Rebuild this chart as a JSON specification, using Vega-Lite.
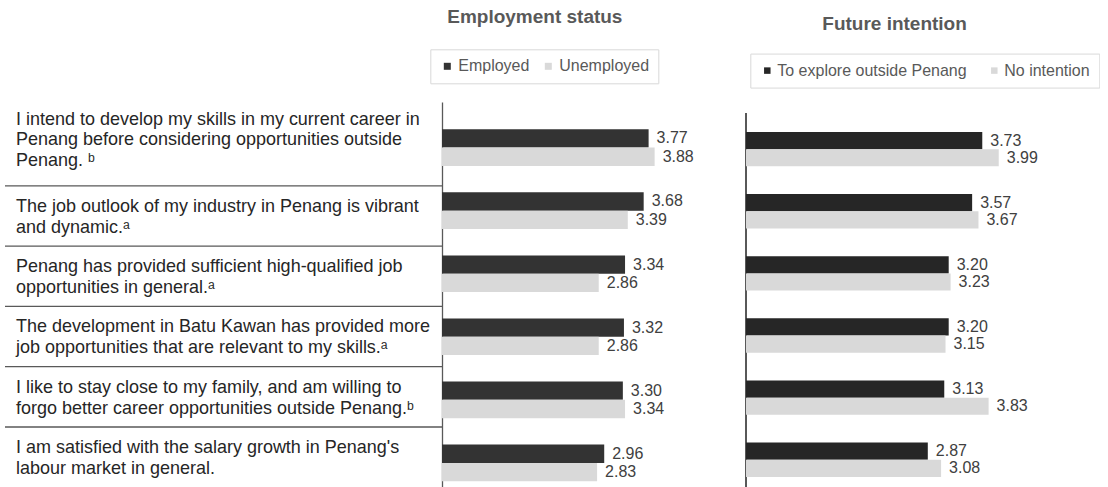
{
  "$schema": "https://vega.github.io/schema/vega-lite/v6.json",
  "background": "white",
  "padding": {"left": 4, "top": 8, "right": 0, "bottom": 0},
  "autosize": {"type": "pad"},
  "config": {"view": {"stroke": null}, "font": "Liberation Sans"},
  "bounds": "flush",
  "align": "none",
  "spacing": 0,
  "datasets": {
    "labels": [
      {"q": "Q1", "text": "I intend to develop my skills in my current career in\nPenang before considering opportunities outside\nPenang. ᵇ"},
      {"q": "Q2", "text": "The job outlook of my industry in Penang is vibrant\nand dynamic.ᵃ"},
      {"q": "Q3", "text": "Penang has provided sufficient high-qualified job\nopportunities in general.ᵃ"},
      {"q": "Q4", "text": "The development in Batu Kawan has provided more\njob opportunities that are relevant to my skills.ᵃ"},
      {"q": "Q5", "text": "I like to stay close to my family, and am willing to\nforgo better career opportunities outside Penang.ᵇ"},
      {"q": "Q6", "text": "I am satisfied with the salary growth in Penang's\nlabour market in general."}
    ],
    "emp": [
      {"q": "Q1", "group": "Employed", "value": 3.77},
      {"q": "Q1", "group": "Unemployed", "value": 3.88},
      {"q": "Q2", "group": "Employed", "value": 3.68},
      {"q": "Q2", "group": "Unemployed", "value": 3.39},
      {"q": "Q3", "group": "Employed", "value": 3.34},
      {"q": "Q3", "group": "Unemployed", "value": 2.86},
      {"q": "Q4", "group": "Employed", "value": 3.32},
      {"q": "Q4", "group": "Unemployed", "value": 2.86},
      {"q": "Q5", "group": "Employed", "value": 3.30},
      {"q": "Q5", "group": "Unemployed", "value": 3.34},
      {"q": "Q6", "group": "Employed", "value": 2.96},
      {"q": "Q6", "group": "Unemployed", "value": 2.83}
    ],
    "fut": [
      {"q": "Q1", "group": "To explore outside Penang", "value": 3.73},
      {"q": "Q1", "group": "No intention", "value": 3.99},
      {"q": "Q2", "group": "To explore outside Penang", "value": 3.57},
      {"q": "Q2", "group": "No intention", "value": 3.67},
      {"q": "Q3", "group": "To explore outside Penang", "value": 3.20},
      {"q": "Q3", "group": "No intention", "value": 3.23},
      {"q": "Q4", "group": "To explore outside Penang", "value": 3.20},
      {"q": "Q4", "group": "No intention", "value": 3.15},
      {"q": "Q5", "group": "To explore outside Penang", "value": 3.13},
      {"q": "Q5", "group": "No intention", "value": 3.83},
      {"q": "Q6", "group": "To explore outside Penang", "value": 2.87},
      {"q": "Q6", "group": "No intention", "value": 3.08}
    ]
  },
  "hconcat": [
    {
      "width": 437,
      "height": 385.3,
      "data": {"name": "labels"},
      "encoding": {
        "y": {"field": "q", "type": "nominal", "sort": null, "axis": null,
              "scale": {"domain": ["Q1", "Q2", "Q3", "Q4", "Q5", "Q6"], "paddingInner": 0, "paddingOuter": 0.1949, "align": 1}},
        "x": {"datum": 0, "type": "quantitative", "scale": {"domain": [0, 1], "nice": false}, "axis": null}
      },
      "layer": [
        {
          "transform": [{"filter": "datum.q != 'Q6'"}],
          "mark": {"type": "rule", "color": "#595959", "strokeWidth": 1.3},
          "encoding": {
            "y": {"field": "q", "type": "nominal", "sort": null, "bandPosition": 1},
            "x2": {"datum": 1}
          }
        },
        {
          "transform": [{"filter": "datum.q == 'Q1'"}],
          "mark": {"type": "text", "align": "left", "baseline": "alphabetic", "dx": 11, "dy": -1, "fontSize": 18, "lineHeight": 21, "lineBreak": "\n", "color": "#262626"},
          "encoding": {
            "y": {"field": "q", "type": "nominal", "sort": null, "bandPosition": 0},
            "text": {"field": "text"}
          }
        },
        {
          "transform": [{"filter": "datum.q != 'Q1'"}],
          "mark": {"type": "text", "align": "left", "baseline": "alphabetic", "dx": 11, "dy": 26, "fontSize": 18, "lineHeight": 21, "lineBreak": "\n", "color": "#262626"},
          "encoding": {
            "y": {"field": "q", "type": "nominal", "sort": null, "bandPosition": 0},
            "text": {"field": "text"}
          }
        }
      ]
    },
    {
      "width": 304,
      "height": 385.3,
      "data": {"name": "emp"},
      "title": {"text": "Employment status", "anchor": "start", "frame": "group", "fontSize": 19, "fontWeight": "bold", "color": "#595959", "dx": 5.3, "baseline": "alphabetic", "offset": 6.3},
      "encoding": {
        "y": {"field": "q", "type": "nominal", "sort": null,
              "scale": {"domain": ["Q1", "Q2", "Q3", "Q4", "Q5", "Q6"], "paddingInner": 0.4196, "paddingOuter": 0.2648, "align": 0.817},
              "axis": {"title": null, "labels": false, "ticks": false, "grid": false, "domainColor": "#595959", "domainWidth": 1.3}},
        "yOffset": {"field": "group", "type": "nominal", "sort": ["Employed", "Unemployed"], "scale": {"paddingInner": 0, "paddingOuter": 0}},
        "x": {"field": "value", "type": "quantitative", "scale": {"domain": [0, 5.547], "nice": false}, "axis": null}
      },
      "layer": [
        {
          "mark": {"type": "bar"},
          "encoding": {
            "color": {"field": "group", "type": "nominal", "sort": ["Employed", "Unemployed"],
              "scale": {"domain": ["Employed", "Unemployed"], "range": ["#333333", "#d9d9d9"]},
              "legend": {"title": null, "orient": "none", "legendX": -11.7, "legendY": -52.7, "direction": "horizontal",
                "strokeColor": "#d9d9d9", "fillColor": "white", "padding": 9, "symbolType": "square", "symbolSize": 49,
                "symbolStrokeWidth": 0, "labelFontSize": 16, "labelColor": "#595959", "labelOffset": 3, "columnPadding": 10, "labelLimit": 300}}
          }
        },
        {
          "mark": {"type": "text", "align": "left", "baseline": "middle", "dx": 8, "fontSize": 16, "color": "#404040"},
          "encoding": {"text": {"field": "value", "type": "quantitative", "format": ".2f"}}
        }
      ]
    },
    {
      "width": 348.4,
      "height": 385.3,
      "data": {"name": "fut"},
      "title": {"text": "Future intention", "anchor": "start", "frame": "group", "fontSize": 19, "fontWeight": "bold", "color": "#595959", "dx": 76.3, "baseline": "alphabetic", "offset": 4},
      "encoding": {
        "y": {"field": "q", "type": "nominal", "sort": null,
              "scale": {"domain": ["Q1", "Q2", "Q3", "Q4", "Q5", "Q6"], "paddingInner": 0.4478, "paddingOuter": 0.3252, "align": 0.7426},
              "axis": null},
        "x": {"field": "value", "type": "quantitative", "scale": {"domain": [0, 5.5], "nice": false}, "axis": null}
      },
      "layer": [
        {
          "mark": {"type": "rule", "color": "#595959", "strokeWidth": 1.3, "orient": "vertical"},
          "encoding": {
            "x": {"datum": 0, "type": "quantitative"},
            "y": {"datum": "Q1", "type": "nominal", "bandPosition": -0.554},
            "y2": {"datum": "Q6", "bandPosition": 1.31}
          }
        },
        {
          "mark": {"type": "bar"},
          "encoding": {
            "yOffset": {"field": "group", "type": "nominal", "sort": ["To explore outside Penang", "No intention"], "scale": {"paddingInner": 0, "paddingOuter": 0}},
            "color": {"field": "group", "type": "nominal", "sort": ["To explore outside Penang", "No intention"],
              "scale": {"domain": ["To explore outside Penang", "No intention"], "range": ["#262626", "#d9d9d9"]},
              "legend": {"title": null, "orient": "none", "legendX": 4.3, "legendY": -48.4, "direction": "horizontal",
                "strokeColor": "#d9d9d9", "fillColor": "white", "padding": 9, "symbolType": "square", "symbolSize": 42,
                "symbolStrokeWidth": 0, "labelFontSize": 16, "labelColor": "#595959", "labelOffset": 2, "columnPadding": 19, "labelLimit": 300}}
          }
        },
        {
          "mark": {"type": "text", "align": "left", "baseline": "middle", "dx": 8, "fontSize": 16, "color": "#404040"},
          "encoding": {
            "yOffset": {"field": "group", "type": "nominal", "sort": ["To explore outside Penang", "No intention"]},
            "text": {"field": "value", "type": "quantitative", "format": ".2f"}
          }
        }
      ]
    }
  ],
  "resolve": {
    "scale": {"x": "independent", "y": "independent", "yOffset": "independent", "color": "independent"},
    "legend": {"color": "independent"}
  }
}
